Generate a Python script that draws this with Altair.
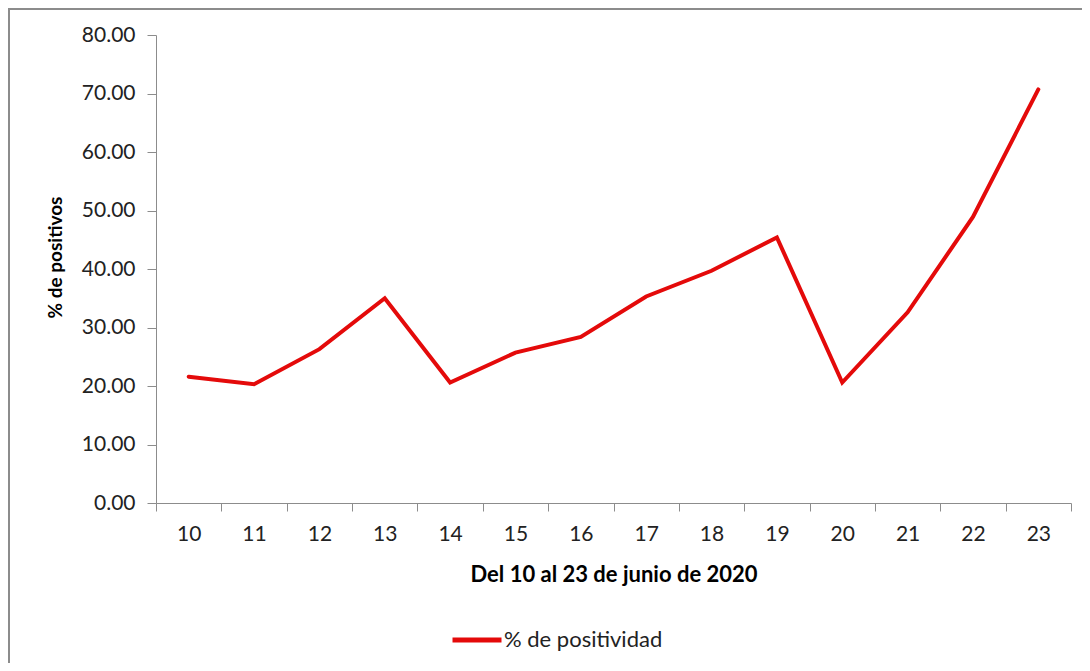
import altair as alt
import pandas as pd

dias = [10, 11, 12, 13, 14, 15, 16, 17, 18, 19, 20, 21, 22, 23]
positividad = [21.6, 20.3, 26.3, 35.0, 20.6, 25.7, 28.4, 35.3, 39.7, 45.4, 20.6, 32.6, 48.9, 70.7]
serie = "% de positividad"
y_ticks = [0, 10, 20, 30, 40, 50, 60, 70, 80]

df = pd.DataFrame({"dia": dias, "valor": positividad, "serie": serie})

# category boundaries (ticks sit between days, as in the original)
bordes = [d - 0.5 for d in dias] + [dias[-1] + 0.5]

FONT = "Lato"
W, H = 915, 468
PL, PT = 148, 27
band = W / len(dias)

line = alt.Chart(df).mark_line(strokeWidth=4, strokeCap="round", strokeJoin="miter").encode(
    x=alt.X("dia:Q",
            scale=alt.Scale(domain=[bordes[0], bordes[-1]], nice=False, zero=False),
            axis=alt.Axis(title="Del 10 al 23 de junio de 2020", labelAngle=0,
                          values=bordes, tickSize=8, labelPadding=12,
                          labelOffset=band / 2,
                          labelExpr=f"datum.value < {dias[-1]} ? format(datum.value + 0.5, 'd') : ''",
                          labelFlush=False, labelOverlap=False,
                          titlePadding=20, titleFontSize=22)),
    y=alt.Y("valor:Q", scale=alt.Scale(domain=[0, 80], nice=False),
            axis=alt.Axis(title="% de positivos", values=y_ticks, format=".2f",
                          tickSize=9, labelPadding=12, titlePadding=16,
                          titleFontSize=19, titleY=222)),
    color=alt.Color("serie:N", scale=alt.Scale(range=["#E40A0A"]),
                    legend=alt.Legend(title=None, orient="none", legendX=294, legendY=578,
                                      symbolType="stroke", symbolStrokeWidth=5,
                                      symbolSize=2400, labelFontSize=22,
                                      labelFont=FONT, labelColor="#222222",
                                      labelOffset=0)),
)

frame = alt.Chart(alt.Data(values=[{"k": 1}])).mark_rect(
    fill=None, stroke="#8c8c8c", strokeWidth=2
).encode(
    x=alt.value(-PL + 1), x2=alt.value(W + 40),
    y=alt.value(-PT + 1), y2=alt.value(H + 220),
)

chart = alt.layer(frame, line).properties(
    width=W, height=H,
    autosize=alt.AutoSizeParams(type="none"),
    padding={"left": PL, "top": PT, "right": 11, "bottom": 160},
    background="white",
).configure_view(stroke=None).configure_axis(
    grid=False, domainColor="#8c8c8c", tickColor="#8c8c8c",
    labelFont=FONT, labelFontSize=21, labelColor="#222222",
    titleFont=FONT, titleFontWeight="bold", titleColor="#000000",
)

chart.save("out.html", embed_options={"renderer": "svg", "actions": False})
